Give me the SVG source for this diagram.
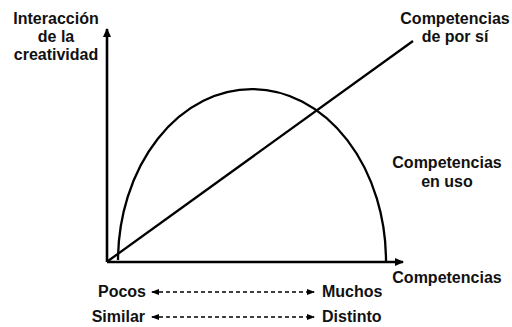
<svg xmlns="http://www.w3.org/2000/svg" width="512" height="327" viewBox="0 0 512 327">
<style>
text{font-family:"Liberation Sans",Arial,sans-serif;font-weight:bold;font-size:16px;fill:#111}
.ax{stroke:#000;stroke-width:2.6;fill:none}
.ln{stroke:#000;stroke-width:2.3;fill:none}
.dash{stroke:#000;stroke-width:1.7;stroke-dasharray:4 3;fill:none}
</style>
<defs>
<marker id="ah" markerWidth="10" markerHeight="10" refX="8" refY="5" orient="auto-start-reverse" markerUnits="userSpaceOnUse">
<path d="M0,1 L9,5 L0,9 z" fill="#000"/>
</marker>
<marker id="sh" markerWidth="10" markerHeight="8" refX="7" refY="4" orient="auto-start-reverse" markerUnits="userSpaceOnUse">
<path d="M0,1 L8,4 L0,7 z" fill="#000"/>
</marker>
</defs>
<g id="connectors">
<line class="ax" x1="107" y1="262" x2="107" y2="29" marker-end="url(#ah)"/>
<line class="ax" x1="107" y1="262" x2="403" y2="262" marker-end="url(#ah)"/>
<path id="curve" class="ln" d="M118,260 A134,172 0 0 1 386,262"/>
<line id="diag" class="ln" x1="108" y1="261" x2="413" y2="41"/>
<line class="dash" x1="152" y1="292" x2="314" y2="292" marker-start="url(#sh)" marker-end="url(#sh)"/>
<line class="dash" x1="152" y1="317" x2="314" y2="317" marker-start="url(#sh)" marker-end="url(#sh)"/>
</g>
<g id="yLabel">
<text x="56" y="24" text-anchor="middle">Interacción</text>
<text x="56" y="42" text-anchor="middle">de la</text>
<text x="56" y="60" text-anchor="middle">creatividad</text>
</g>
<g id="compPorSi">
<text x="455" y="24" text-anchor="middle">Competencias</text>
<text x="455" y="42" text-anchor="middle">de por sí</text>
</g>
<g id="compUso">
<text x="447" y="168" text-anchor="middle">Competencias</text>
<text x="447" y="187" text-anchor="middle">en uso</text>
</g>
<g id="xLabel">
<text x="447" y="283" text-anchor="middle">Competencias</text>
</g>
<g id="pocos"><text x="146" y="297" text-anchor="end">Pocos</text></g>
<g id="muchos"><text x="322" y="297">Muchos</text></g>
<g id="similar"><text x="145" y="322" text-anchor="end">Similar</text></g>
<g id="distinto"><text x="322" y="322">Distinto</text></g>
</svg>
